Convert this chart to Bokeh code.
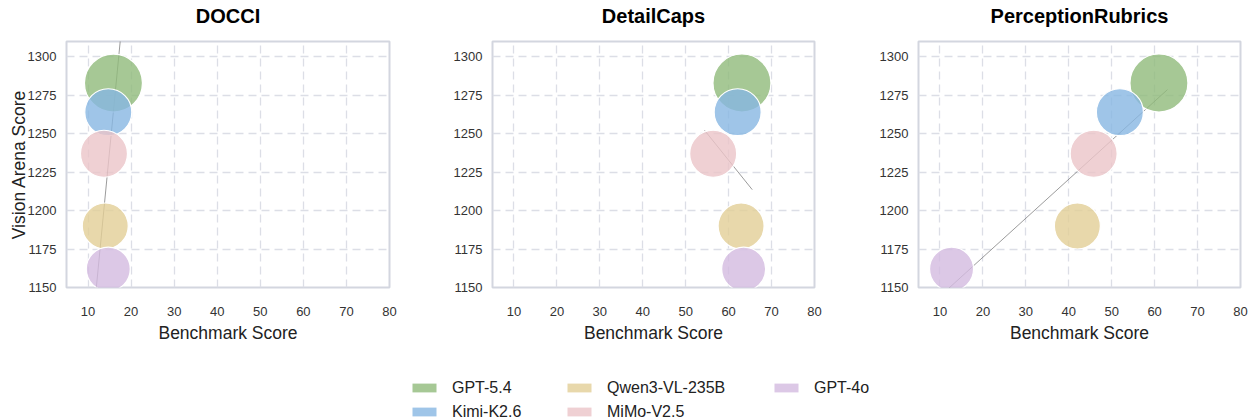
import numpy as np
from bokeh.plotting import figure
from bokeh.layouts import row, column
from bokeh.models import Range1d, Legend, LegendItem, FixedTicker, Title
from bokeh.embed import file_html
from bokeh.resources import INLINE

# ---------------- data ----------------
benchmarks = ["DOCCI", "DetailCaps", "PerceptionRubrics"]
models = ["GPT-5.4", "Kimi-K2.6", "MiMo-V2.5", "Qwen3-VL-235B", "GPT-4o"]
arena_score = [1283, 1264, 1237, 1190, 1162]
docci_score = [15.9, 14.7, 13.7, 14.0, 14.7]
detailcaps_score = [63.1, 62.1, 56.4, 62.9, 63.5]
perception_score = [61.0, 51.9, 45.8, 42.0, 12.7]
bubble_size = [58, 47, 47, 46, 44]
legend_order = ["GPT-5.4", "Kimi-K2.6", "Qwen3-VL-235B", "MiMo-V2.5", "GPT-4o"]
x_ticks = [10, 20, 30, 40, 50, 60, 70, 80]
y_ticks = [1150, 1175, 1200, 1225, 1250, 1275, 1300]

colors = {
    "GPT-5.4": "#90ba7a",
    "Kimi-K2.6": "#87b6e2",
    "MiMo-V2.5": "#ebc4c8",
    "Qwen3-VL-235B": "#e2ce96",
    "GPT-4o": "#d3bae0",
}
ALPHA = 0.8
SANS = "Liberation Sans"
GRID = "#dcdee6"
FRAME = "#d3d6df"
X0, X1 = 5, 80
Y0, Y1 = 1150, 1310

scores = [docci_score, detailcaps_score, perception_score]
widths = [440, 426, 382]
borders_l = [66, 52, 52]
borders_r = [51, 52, 8]
FIG_H = 345
LEG_H = 74

figs = []
for i, (name, xs) in enumerate(zip(benchmarks, scores)):
    p = figure(width=widths[i], height=FIG_H, output_backend="svg", toolbar_location=None,
               x_range=Range1d(X0, X1), y_range=Range1d(Y0, Y1),
               min_border_left=borders_l[i], min_border_right=borders_r[i],
               min_border_top=41, min_border_bottom=55)
    # spacer between frame and title, then the panel title itself
    p.add_layout(Title(text=" ", text_font_size="1px", standoff=12), "above")
    p.add_layout(Title(text=name, align="center", text_font=SANS, text_font_style="bold",
                       text_font_size="20px", text_color="#000000", standoff=0), "above")

    p.outline_line_color = FRAME
    p.outline_line_width = 2
    p.background_fill_color = "white"
    p.border_fill_color = "white"

    for g in (p.xgrid[0], p.ygrid[0]):
        g.grid_line_color = GRID
        g.grid_line_width = 1.3
        g.grid_line_dash = "8 5"

    p.xaxis.ticker = FixedTicker(ticks=x_ticks)
    p.yaxis.ticker = FixedTicker(ticks=y_ticks)
    for ax in (p.xaxis[0], p.yaxis[0]):
        ax.axis_line_color = None
        ax.major_tick_line_color = None
        ax.minor_tick_line_color = None
        ax.major_tick_out = 0
        ax.major_tick_in = 0
        ax.major_label_text_font = SANS
        ax.major_label_text_font_size = "13px"
        ax.major_label_text_color = "#333333"
        ax.axis_label_text_font = SANS
        ax.axis_label_text_font_size = "17.5px"
        ax.axis_label_text_font_style = "normal"
        ax.axis_label_text_color = "#222222"
    p.xaxis.major_label_standoff = 19
    p.xaxis.axis_label = "Benchmark Score"
    p.xaxis.axis_label_standoff = 4
    p.yaxis.major_label_standoff = 10
    if i == 0:
        p.yaxis.axis_label = "Vision Arena Score"
        p.yaxis.axis_label_standoff = -4

    # trend line (least-squares fit over data range extended by 2 points)
    slope, intercept = np.polyfit(xs, arena_score, 1)
    lx = np.array([min(xs) - 2, max(xs) + 2])
    p.line(lx, slope * lx + intercept, line_color="#7a7a7a", line_width=1, line_alpha=0.75)

    for m, x, y, s in zip(models, xs, arena_score, bubble_size):
        p.scatter([x], [y], size=s, fill_color=colors[m], fill_alpha=ALPHA,
                  line_color="white", line_width=1.2)
    figs.append(p)

# ---------------- legend ----------------
leg = figure(width=sum(widths), height=LEG_H, output_backend="svg", toolbar_location=None,
             x_range=Range1d(0, 1), y_range=Range1d(0, 1),
             min_border_left=0, min_border_right=0, min_border_top=0, min_border_bottom=0)
leg.axis.visible = False
leg.grid.visible = False
leg.outline_line_color = None

# proxy renderers (outside the visible range) that only feed the legend swatches
rends = {}
for m in legend_order:
    rends[m] = leg.quad(left=[5], right=[6], top=[6], bottom=[5], fill_color=colors[m],
                        fill_alpha=ALPHA, line_color=None)

groups = [["GPT-5.4", "Kimi-K2.6"], ["Qwen3-VL-235B", "MiMo-V2.5"], ["GPT-4o"]]
xpos = [409, 564, 771]
ITEM_H = 19
SPACING = 5
TOP_GAP = 33
for grp, xp in zip(groups, xpos):
    items = [LegendItem(label=m, renderers=[rends[m]]) for m in grp]
    n = len(grp)
    hgt = ITEM_H * n + SPACING * (n - 1)
    L = Legend(items=items, location=(xp, LEG_H - TOP_GAP - hgt),
               orientation="vertical", glyph_width=30, glyph_height=11,
               label_standoff=13, label_text_font=SANS, label_text_font_size="16px",
               label_text_color="#222222", label_height=ITEM_H, spacing=SPACING,
               padding=0, margin=0, border_line_alpha=0, background_fill_alpha=0)
    leg.add_layout(L, "center")

layout = column(row(*figs, spacing=0), leg, spacing=0)
open("out.html", "w").write(file_html(layout, INLINE))
